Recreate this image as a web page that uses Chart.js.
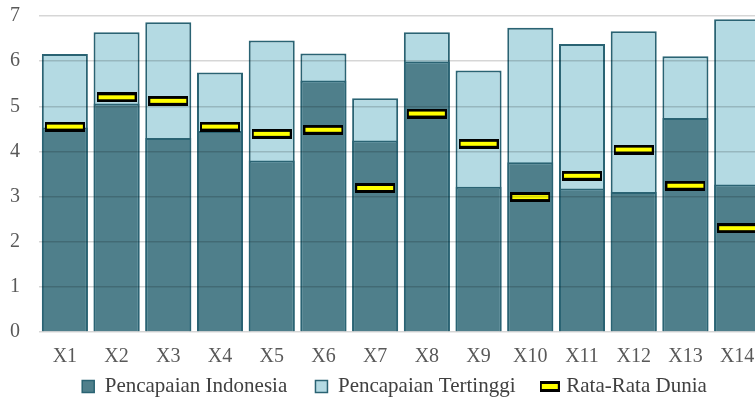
<!DOCTYPE html>
<html>
<head>
<meta charset="utf-8">
<script src="https://cdn.jsdelivr.net/npm/chart.js@4/dist/chart.umd.min.js"></script>
<style>
  html, body { margin: 0; padding: 0; overflow: hidden; background: #fff; }
  #wrap { width: 800px; height: 397px; }
</style>
</head>
<body>
<div id="wrap"><canvas id="myChart"></canvas></div>
<script>
const labels = ['X1', 'X2', 'X3', 'X4', 'X5', 'X6', 'X7', 'X8', 'X9', 'X10', 'X11', 'X12', 'X13', 'X14']
const indonesia = [4.53, 5.06, 4.3, 4.45, 3.8, 5.57, 4.24, 5.99, 3.22, 3.76, 3.18, 3.1, 4.74, 3.27]
const tertinggi = [6.16, 6.64, 6.86, 5.75, 6.46, 6.17, 5.18, 6.64, 5.79, 6.74, 6.38, 6.66, 6.11, 6.93]
const rataDunia = [4.55, 5.2, 5.12, 4.55, 4.39, 4.48, 3.19, 4.84, 4.17, 2.99, 3.46, 4.04, 3.24, 2.3]
const yTicks = [0, 1, 2, 3, 4, 5, 6, 7]

// marker for the world average: black bar with yellow dashes
const makeMarker = (w, h, dash, gap) => {
  const c = document.createElement('canvas')
  c.width = w
  c.height = h
  const ctx = c.getContext('2d')
  ctx.fillStyle = '#000'
  ctx.fillRect(0, 0, w, h)
  ctx.fillStyle = '#ffff00'
  ctx.fillRect(2, 3, w - 4, h - 6)
  ctx.fillStyle = '#000'
  for (let x = 2 + dash; x < w - 4; x += dash + gap) {
    ctx.fillRect(x, 0, gap, 3)
    ctx.fillRect(x, h - 3, gap, 3)
  }
  return c
}
const bigMarker = makeMarker(40, 10, 7, 3)
const smallMarker = makeMarker(20, 11, 5, 3)

const serif = 'Liberation Serif'

// nudge the legend a little to the right, like the original
const legendShift = {
  id: 'legendShift',
  afterLayout: (chart) => {
    chart.legend.left += 8
    chart.legend.right += 8
  }
}

const dataConfig = {
  labels: labels,
  datasets: [{
    type: 'bar',
    label: 'Pencapaian Indonesia',
    data: indonesia,
    backgroundColor: '#4f7f8b',
    borderColor: '#2a6373',
    borderWidth: 2,
    grouped: false,
    order: 1
  }, {
    type: 'bar',
    label: 'Pencapaian Tertinggi',
    data: tertinggi,
    backgroundColor: '#b4dae3',
    borderColor: '#2a6373',
    borderWidth: 2,
    grouped: false,
    order: 2
  }, {
    type: 'line',
    label: 'Rata-Rata Dunia',
    data: rataDunia,
    showLine: false,
    pointStyle: bigMarker,
    pointRadius: 10,
    pointHoverRadius: 10,
    order: 0
  }]
}

const config = {
  data: dataConfig,
  plugins: [legendShift],
  options: {
    responsive: true,
    maintainAspectRatio: false,
    animation: false,
    layout: { autoPadding: false, padding: { top: 0, right: 37, left: 10, bottom: -10 } },
    datasets: {
      bar: { categoryPercentage: 0.89, barPercentage: 1 }
    },
    plugins: {
      tooltip: { enabled: false },
      legend: {
        position: 'bottom',
        labels: {
          font: { family: serif, size: 21 },
          color: '#404040',
          usePointStyle: true,
          boxWidth: 12,
          boxHeight: 12,
          padding: 2,
          generateLabels: (chart) => {
            const items = Chart.defaults.plugins.legend.labels.generateLabels(chart)
            items.sort((a, b) => a.datasetIndex - b.datasetIndex)
            items.forEach((it) => {
              if (it.datasetIndex === 2) {
                it.pointStyle = smallMarker
              } else {
                it.pointStyle = 'rect'
                it.lineWidth = 1.5
                it.text = it.text + '     '
              }
            })
            return items
          }
        }
      }
    },
    scales: {
      x: {
        grid: { display: false },
        border: { display: false },
        ticks: {
          font: { family: serif, size: 20 },
          color: '#595959',
          padding: 5
        }
      },
      y: {
        min: 0,
        max: 7,
        afterBuildTicks: (axis) => { axis.ticks = yTicks.map(v => ({ value: v })) },
        afterFit: (axis) => { axis.width = 29 },
        grid: { color: 'rgba(0,0,0,0.16)', lineWidth: 1.5, drawTicks: false, z: 1 },
        border: { display: false },
        ticks: {
          font: { family: serif, size: 20 },
          color: '#595959',
          padding: 4,
          crossAlign: 'far'
        }
      }
    }
  }
}

const myChart = new Chart(
  document.getElementById('myChart'),
  config
)
</script>
</body>
</html>
